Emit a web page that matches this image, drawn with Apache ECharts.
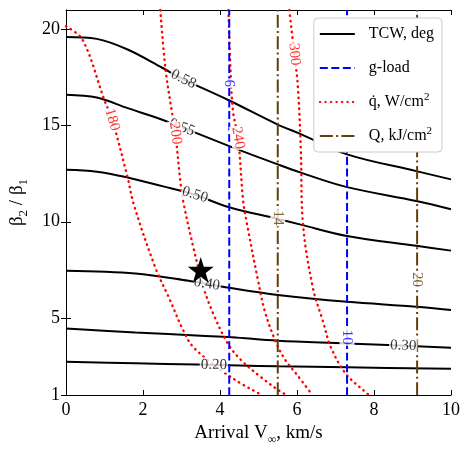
<!DOCTYPE html>
<html>
<head>
<meta charset="utf-8">
<script src="https://cdn.jsdelivr.net/npm/echarts@6/dist/echarts.min.js"></script>
<style>
  html, body { margin: 0; padding: 0; background: #fff; }
  #chart { width: 470px; height: 454px; }
</style>
</head>
<body>
<div id="chart"></div>
<script>
// TCW contours, [arrival Vinf km/s, beta2/beta1]
var tcw058 = [[0, 19.6], [0.8, 19.5], [1.6, 18.95], [2.5, 18.0], [3.0, 17.45], [4.24, 16.3], [5.5, 15.05], [6.1, 14.55], [7.3, 13.5], [9.1, 12.63], [10, 12.2]];
var tcw055 = [[0, 16.6], [0.8, 16.45], [1.6, 15.9], [2.5, 15.3], [4.24, 13.93], [5.5, 12.98], [6.1, 12.55], [7.3, 11.8], [9.1, 11.08], [10, 10.65]];
var tcw050 = [[0, 12.7], [0.8, 12.6], [1.6, 12.3], [2.5, 11.85], [3.35, 11.4], [4.24, 10.75], [5.5, 10.15], [6.1, 9.85], [7.3, 9.26], [9.1, 8.75], [10, 8.5]];
var tcw040 = [[0, 7.45], [1.8, 7.31], [3.18, 6.93], [4.24, 6.57], [5.5, 6.2], [7.3, 5.84], [9.1, 5.59], [10, 5.41]];
var tcw030 = [[0, 4.45], [1.8, 4.25], [3.5, 4.08], [4.3, 4.0], [5.5, 3.82], [7.3, 3.68], [10, 3.45]];
var tcw020 = [[0, 2.73], [1.8, 2.65], [3.4, 2.58], [4.5, 2.53], [5.5, 2.49], [7.3, 2.44], [10, 2.36]];

// peak heat flux contours, W/cm2
var q180 = [[0, 20.15], [0.43, 19.46], [1.0, 16.3], [1.2, 15.3], [1.6, 12.3], [1.76, 10.9], [2.32, 7.62], [2.67, 6.07], [3.05, 4.34], [3.31, 3.48], [4.04, 2.27], [4.56, 1.58], [5.03, 1.06], [5.08, 1.0]];
var q200 = [[2.45, 21], [2.58, 18], [2.75, 15.7], [2.84, 14.6], [2.97, 12.1], [3.05, 11.0], [3.31, 8.66], [3.57, 6.6], [3.83, 5.2], [4.21, 3.65], [4.56, 2.79], [5.07, 1.92], [5.59, 1.15], [5.75, 1.0]];
var q240 = [[4.22, 21], [4.27, 18], [4.34, 15.7], [4.47, 14.36], [4.6, 11.1], [4.69, 10.0], [4.99, 6.93], [5.16, 5.38], [5.42, 3.9], [5.67, 2.9], [6.02, 2.0], [6.4, 1.0]];
var q300 = [[5.8, 21], [5.93, 18.7], [6.02, 17.1], [6.1, 13.7], [6.15, 10.0], [6.41, 6.59], [6.67, 4.86], [6.88, 3.48], [7.27, 2.1], [7.83, 1.06], [7.86, 1.0]];

// vertical contours: g-load and heat load
var gLoadX = [4.24, 7.3];
var gLoadText = ['6', '10'];
var gLoadLabelY = [17.2, 4.0];
var heatLoadX = [5.5, 9.12];
var heatLoadText = ['14', '20'];
var heatLoadLabelY = [10.2, 7.0];

// inline contour labels [x, y, text, angle]
var tcwLabels = [[3.05, 17.4, '0.58', -26], [3.01, 14.9, '0.55', -21], [3.35, 11.4, '0.50', -17], [3.66, 6.77, '0.40', -9], [8.76, 3.56, '0.30', -2], [3.84, 2.56, '0.20', -1]];
var qLabels = [[1.2, 15.3, '180', -73], [2.84, 14.6, '200', -83], [4.47, 14.36, '240', -80], [5.93, 18.7, '300', -85]];

var selected = [3.5, 7.5];

var xTicks = [0, 2, 4, 6, 8, 10];
var yTicks = [1, 5, 10, 15, 20];

var FONT = 'Liberation Serif';
var RED = '#ff0000', BLUE = '#0000ff', BROWN = '#663c0c';
var STAR = 'path://M50,0 L61.2,34.5 L97.6,34.5 L68.2,55.9 L79.4,90.5 L50,69.1 L20.6,90.5 L31.8,55.9 L2.4,34.5 L38.8,34.5 Z';

var chart = echarts.init(document.getElementById('chart'));

function curve(name, data, color, type, width, cap) {
  return {
    name: name, type: 'line', data: data, smooth: 0.35, symbol: 'none',
    lineStyle: { color: color, type: type, width: width, cap: cap || 'butt' },
    itemStyle: { color: color },
    z: 3, silent: true
  };
}

function vline(name, x, color, type) {
  return curve(name, [[x, 1], [x, 21]], color, type, 2);
}

function labelSeries(items, color) {
  return {
    type: 'scatter', symbolSize: 0, z: 5, silent: true,
    data: items.map(function (d) {
      return {
        value: [d[0], d[1]],
        label: { show: true, position: 'inside', formatter: d[2], rotate: d[3] }
      };
    }),
    label: {
      fontFamily: FONT, fontSize: 15, color: color,
      backgroundColor: '#fff', padding: [0, 1]
    }
  };
}

var series = [];
[tcw058, tcw055, tcw050, tcw040, tcw030, tcw020].forEach(function (d) {
  series.push(curve('TCW, deg', d, '#000', 'solid', 2));
});
[q180, q200, q240, q300].forEach(function (d) {
  series.push(curve('q', d, RED, [0.5, 5], 2.4, 'round'));
});
gLoadX.forEach(function (x) { series.push(vline('g-load', x, BLUE, [8, 3.5])); });
heatLoadX.forEach(function (x) { series.push(vline('Q', x, BROWN, [13, 3.3, 2, 3.3])); });

series.push(labelSeries(tcwLabels, '#000'));
series.push(labelSeries(qLabels, RED));
series.push(labelSeries(gLoadX.map(function (x, i) { return [x, gLoadLabelY[i], gLoadText[i], -90]; }), BLUE));
series.push(labelSeries(heatLoadX.map(function (x, i) { return [x, heatLoadLabelY[i], heatLoadText[i], -90]; }), BROWN));
series.push({
  type: 'scatter', data: [selected], symbol: STAR, symbolSize: 26,
  itemStyle: { color: '#000', opacity: 1 }, z: 6, silent: true
});

var legendText = {
  'TCW, deg': 'TCW, deg',
  'g-load': 'g-load',
  'q': 'q\u0307, W/cm{sup|2}',
  'Q': 'Q, kJ/cm{sup|2}'
};

var axisCommon = {
  min: 0, max: 10, interval: 2,
  axisLine: { lineStyle: { color: '#000', width: 1 } },
  axisTick: { inside: true, length: 5, lineStyle: { color: '#000' } },
  splitLine: { show: false }
};

chart.setOption({
  animation: false,
  backgroundColor: '#fff',
  grid: { left: 63, right: 19, top: 10, bottom: 59 },
  legend: {
    data: ['TCW, deg', 'g-load', 'q', 'Q'],
    orient: 'vertical', right: 28, top: 18,
    itemWidth: 35, itemHeight: 14, itemGap: 14,
    padding: [6, 8, 6, 5],
    backgroundColor: '#fff', borderColor: '#ccc', borderWidth: 1, borderRadius: 4,
    itemStyle: { opacity: 0 },
    formatter: function (name) { return legendText[name]; },
    textStyle: {
      fontFamily: FONT, fontSize: 16, color: '#000', lineHeight: 20, padding: [0, 0, 0, 9],
      rich: { sup: { fontFamily: FONT, fontSize: 11, lineHeight: 11, verticalAlign: 'top' } }
    },
    z: 10
  },
  xAxis: [
    Object.assign({}, axisCommon, {
      type: 'value', position: 'bottom',
      name: '{n|Arrival V}{s|\u221e}{n|, km/s}', nameLocation: 'middle', nameGap: 27,
      nameTextStyle: {
        rich: {
          n: { fontFamily: FONT, fontSize: 19, color: '#000', lineHeight: 22, verticalAlign: 'top' },
          s: { fontFamily: FONT, fontSize: 12, color: '#000', lineHeight: 12, padding: [10, 0, 0, 0], verticalAlign: 'top' }
        }
      },
      axisLabel: { fontFamily: FONT, fontSize: 18, color: '#000', margin: 6 }
    }),
    Object.assign({}, axisCommon, {
      type: 'value', position: 'top', axisLabel: { show: false }
    })
  ],
  yAxis: [
    {
      type: 'value', min: 1, max: 21, position: 'left',
      name: '{n|\u03b2}{s|2}{n| / \u03b2}{s|1}', nameLocation: 'middle', nameGap: 36,
      nameTextStyle: {
        rich: {
          n: { fontFamily: FONT, fontSize: 19, color: '#000', lineHeight: 22, verticalAlign: 'top' },
          s: { fontFamily: FONT, fontSize: 13, color: '#000', lineHeight: 13, padding: [9, 0, 0, 0], verticalAlign: 'top' }
        }
      },
      axisLine: { lineStyle: { color: '#000', width: 1 } },
      axisTick: { inside: true, length: 5, customValues: yTicks, lineStyle: { color: '#000' } },
      axisLabel: { customValues: yTicks, fontFamily: FONT, fontSize: 18, color: '#000', margin: 6 },
      splitLine: { show: false }
    },
    {
      type: 'value', min: 1, max: 21, position: 'right',
      axisLine: { lineStyle: { color: '#000', width: 1 } },
      axisTick: { inside: true, length: 5, customValues: yTicks, lineStyle: { color: '#000' } },
      axisLabel: { show: false, customValues: yTicks },
      splitLine: { show: false }
    }
  ],
  series: series
});
</script>
</body>
</html>
